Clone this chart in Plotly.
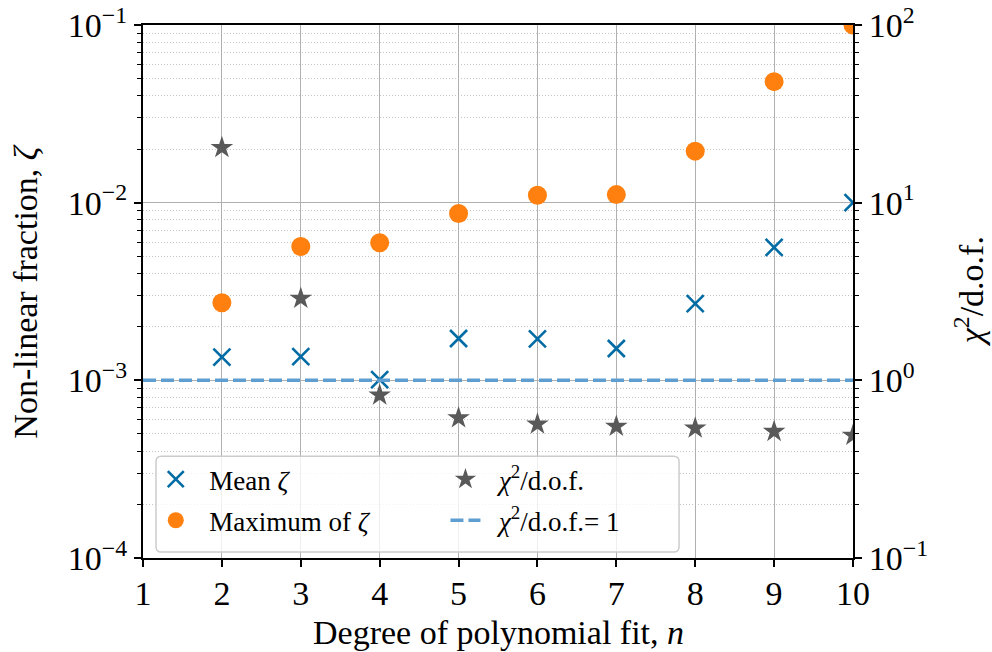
import plotly.graph_objects as go

# ---- data ----
degree = [2, 3, 4, 5, 6, 7, 8, 9, 10]
mean_zeta = [1.35e-3, 1.36e-3, 1.01e-3, 1.72e-3, 1.71e-3, 1.51e-3, 2.70e-3, 5.6e-3, 1.0e-2]
max_zeta = [2.73e-3, 5.67e-3, 5.95e-3, 8.69e-3, 1.10e-2, 1.11e-2, 1.95e-2, 4.8e-2, 1.0e-1]
chi2_dof = [20.4, 2.89, 0.826, 0.614, 0.567, 0.55, 0.538, 0.515, 0.49]
ref_x = [1, 10]
ref_y = [1, 1]

x_ticks = [1, 2, 3, 4, 5, 6, 7, 8, 9, 10]
left_ticks = [1e-4, 1e-3, 1e-2, 1e-1]
left_text = ["10<sup>−4</sup>", "10<sup>−3</sup>", "10<sup>−2</sup>", "10<sup>−1</sup>"]
right_ticks = [1e-1, 1e0, 1e1, 1e2]
right_text = ["10<sup>−1</sup>", "10<sup>0</sup>", "10<sup>1</sup>", "10<sup>2</sup>"]

SP = "\u2002"
labels = {
    "mean": SP + "Mean <i>ζ</i>",
    "max": SP + "Maximum of <i>ζ</i>",
    "chi": SP + "<i>χ</i><sup>2</sup>/d.o.f.",
    "ref": SP + "<i>χ</i><sup>2</sup>/d.o.f.= 1",
}
x_title = "Degree of polynomial fit, <i>n</i>"
y_title = "Non-linear fraction, <i>ζ</i>"
y2_title = "<i>χ</i><sup>2</sup>/d.o.f."

C_BLUE = "#006BA4"
C_ORANGE = "#FF800E"
C_GRAY = "#595959"
C_LIGHT = "#5F9ED1"

FONT = "Liberation Serif"

def minor_vals(lo, hi):
    vals = []
    for e in range(lo, hi):
        for k in range(2, 10):
            vals.append(k * 10 ** e)
    return vals

fig = go.Figure()
fig.add_trace(go.Scatter(
    x=degree, y=mean_zeta, mode="markers", name=labels["mean"],
    legend="legend", legendgroup="a",
    marker=dict(symbol="x-thin", size=17, color=C_BLUE, line=dict(width=2.6, color=C_BLUE)),
))
fig.add_trace(go.Scatter(
    x=degree, y=max_zeta, mode="markers", name=labels["max"],
    legend="legend", legendgroup="b",
    marker=dict(symbol="circle", size=19, color=C_ORANGE),
))
fig.add_trace(go.Scatter(
    x=degree, y=chi2_dof, mode="markers", name=labels["chi"], yaxis="y2",
    legend="legend2", legendgroup="c",
    marker=dict(symbol="star", size=17, color=C_GRAY),
))
fig.add_trace(go.Scatter(
    x=ref_x, y=ref_y, mode="lines", name=labels["ref"], yaxis="y2",
    legend="legend2", legendgroup="d",
    line=dict(color=C_LIGHT, width=3.5, dash="13px,5px"),
))

# legend frame (rounded rectangle, paper coordinates)
bx0, bx1, by0, by1 = 0.0183, 0.755, 0.0113, 0.191
rx, ry = 0.0075, 0.0100
frame_path = (
    f"M{bx0+rx},{by0} L{bx1-rx},{by0} Q{bx1},{by0} {bx1},{by0+ry} "
    f"L{bx1},{by1-ry} Q{bx1},{by1} {bx1-rx},{by1} "
    f"L{bx0+rx},{by1} Q{bx0},{by1} {bx0},{by1-ry} "
    f"L{bx0},{by0+ry} Q{bx0},{by0} {bx0+rx},{by0} Z"
)

legend_common = dict(
    orientation="v", yanchor="top", xanchor="left",
    bgcolor="rgba(0,0,0,0)", borderwidth=0,
    font=dict(family=FONT, size=27, color="black"),
    tracegroupgap=3,
)

fig.update_layout(
    width=992, height=652,
    margin=dict(l=143, r=139, t=25, b=94, autoexpand=False),
    paper_bgcolor="white", plot_bgcolor="white",
    font=dict(family=FONT, size=34, color="black"),
    showlegend=True,
    legend=dict(x=0.018, y=0.193, **legend_common),
    legend2=dict(x=0.426, y=0.193, **legend_common),
    shapes=[dict(type="path", path=frame_path, xref="paper", yref="paper",
                 fillcolor="rgba(255,255,255,0.8)", line=dict(color="#cccccc", width=1.5),
                 layer="above")],
    xaxis=dict(
        range=[1, 10], tickvals=x_ticks, ticks="outside", ticklen=7, tickwidth=1.5,
        tickcolor="black", showline=True, linecolor="black", linewidth=2, mirror=True,
        showgrid=True, gridcolor="#b0b0b0", gridwidth=1, zeroline=False,
        automargin=False, tickfont=dict(size=34), ticklabelstandoff=-3,
    ),
    yaxis=dict(
        type="log", range=[-4, -1], tickvals=left_ticks, ticktext=left_text,
        ticks="outside", ticklen=7, tickwidth=1.5, tickcolor="black",
        showline=True, linecolor="black", linewidth=2,
        showgrid=True, gridcolor="#b0b0b0", gridwidth=1, zeroline=False,
        minor=dict(tickvals=minor_vals(-4, -1), ticks="outside", ticklen=4, tickwidth=1,
                   tickcolor="black", showgrid=True, gridcolor="#c4c4c4",
                   griddash="1px,2px", gridwidth=1),
        automargin=False, tickfont=dict(size=34),
    ),
    yaxis2=dict(
        type="log", range=[-1, 2], overlaying="y", side="right",
        tickvals=right_ticks, ticktext=right_text,
        ticks="outside", ticklen=7, tickwidth=1.5, tickcolor="black",
        showline=True, linecolor="black", linewidth=2,
        showgrid=False, zeroline=False,
        minor=dict(tickvals=minor_vals(-1, 2), ticks="outside", ticklen=4, tickwidth=1,
                   tickcolor="black", showgrid=False),
        automargin=False, tickfont=dict(size=34),
    ),
    annotations=[
        dict(text=x_title, xref="paper", yref="paper", x=0.5, y=-0.139,
             xanchor="center", yanchor="middle", showarrow=False, font=dict(size=34)),
        dict(text=y_title, xref="paper", yref="paper", x=-0.166, y=0.5,
             xanchor="center", yanchor="middle", textangle=-90, showarrow=False, font=dict(size=34)),
        dict(text=y2_title, xref="paper", yref="paper", x=1.163, y=0.5,
             xanchor="center", yanchor="middle", textangle=-90, showarrow=False, font=dict(size=34)),
    ],
)

fig.write_html("out.html")
